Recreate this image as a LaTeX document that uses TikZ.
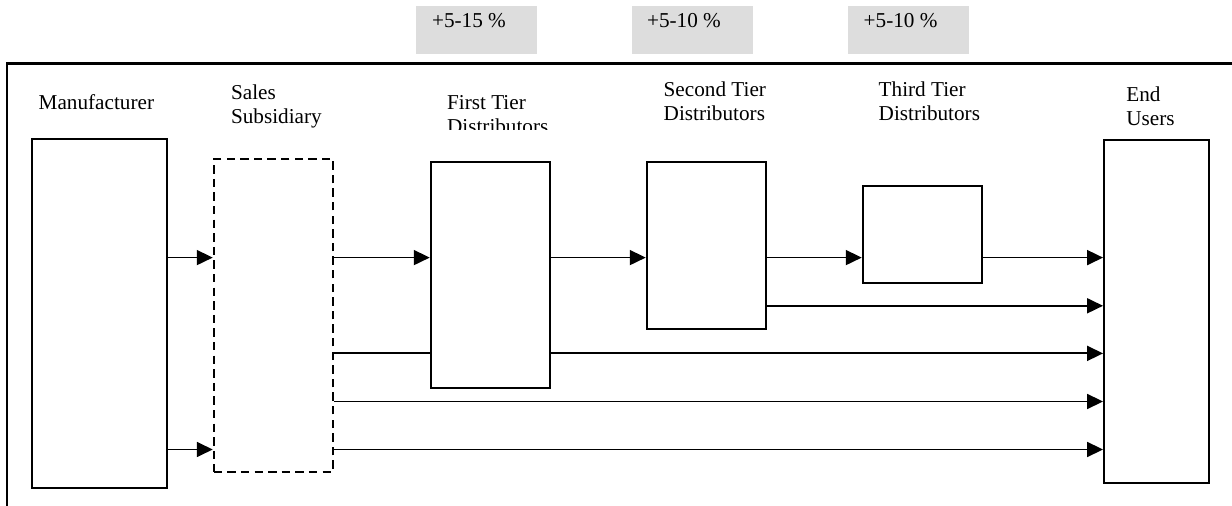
\documentclass[tikz,border=0pt]{standalone}
\usepackage{fontspec}
\setmainfont{Liberation Serif}
\usetikzlibrary{arrows.meta,fit}
\definecolor{markup}{HTML}{DDDDDD}
% two left-aligned lines whose baseline is that of the first line
\newcommand\twoline[2]{\vtop{\baselineskip=12pt\hbox{#1}\hbox{#2}}}

\begin{document}
\begin{tikzpicture}[x=0.5pt,y=-0.5pt,
  box/.style={draw,line width=0.95pt,fill=white,inner sep=0pt},
  dbox/.style={draw,line width=0.95pt,dash pattern=on 4.2pt off 2.6pt,inner sep=0pt},
  tag/.style={fill=markup,inner sep=0pt},
  lbl/.style={anchor=base west,inner sep=0pt,font=\fontsize{10.6}{12}\selectfont},
  flow/.style={line width=0.9pt,-{Triangle[length=8pt,width=7.5pt]}},
  link/.style={line width=0.9pt},
  frame/.style={line width=1.3pt}]

\useasboundingbox (0,0) rectangle (1232,506);

% mark-up labels above the frame
\node[tag, fit={(416,6) (536.7,54.3)}] (g1) {};
\node[tag, fit={(632,6) (752.7,54.3)}] (g2) {};
\node[tag, fit={(848.3,6) (968.7,54.3)}] (g3) {};
\node[lbl] (p1) at (431.7,27.3) {+5-15 \%};
\node[lbl] (p2) at (646.7,27.3) {+5-10 \%};
\node[lbl] (p3) at (863.3,27.3) {+5-10 \%};

% frame
\draw[frame] (1232,63.3) -- (7,63.3) -- (7,506);

% column headings
\node[lbl] (tMfr) at (38.3,109.3) {Manufacturer};
\node[lbl] (tSales) at (230.7,99.3) {\twoline{Sales}{Subsidiary}};
\begin{scope}
  \clip (0,0) rectangle (1232,130);
  \node[lbl] (tFirst) at (446.7,110) {\twoline{First Tier}{Distributors}};
\end{scope}
\node[lbl] (tSecond) at (663.3,96.7) {\twoline{Second Tier}{Distributors}};
\node[lbl] (tThird) at (878.3,96.7) {\twoline{Third Tier}{Distributors}};
\node[lbl] (tUsers) at (1126,101.7) {\twoline{End}{Users}};

% channel members
\node[box, fit={(31.7,138.7) (166.7,488.3)}] (mfr) {};
\node[dbox, fit={(213.7,159.3) (333.3,471.7)}] (sales) {};
\node[box, fit={(430.7,161.7) (550,388.3)}] (first) {};
\node[box, fit={(646.7,161.7) (766,329.3)}] (second) {};
\node[box, fit={(862.7,185.7) (982,283.3)}] (third) {};
\node[box, fit={(1104,140) (1209.3,483.3)}] (users) {};

% flow rows
\coordinate (r1) at (0,257.6);
\coordinate (r2) at (0,305.8);
\coordinate (r3) at (0,353.4);
\coordinate (r4) at (0,401.5);
\coordinate (r5) at (0,449.5);

\draw[flow] (mfr.east |- r1) -- (sales.west |- r1);
\draw[flow] (mfr.east |- r5) -- (sales.west |- r5);
\draw[flow] (sales.east |- r1) -- (first.west |- r1);
\draw[flow] (first.east |- r1) -- (second.west |- r1);
\draw[flow] (second.east |- r1) -- (third.west |- r1);
\draw[flow] (third.east |- r1) -- (users.west |- r1);
\draw[flow] (second.east |- r2) -- (users.west |- r2);
\draw[link] (sales.east |- r3) -- (first.west |- r3);
\draw[flow] (first.east |- r3) -- (users.west |- r3);
\draw[flow] (sales.east |- r4) -- (users.west |- r4);
\draw[flow] (sales.east |- r5) -- (users.west |- r5);
\end{tikzpicture}
\end{document}
